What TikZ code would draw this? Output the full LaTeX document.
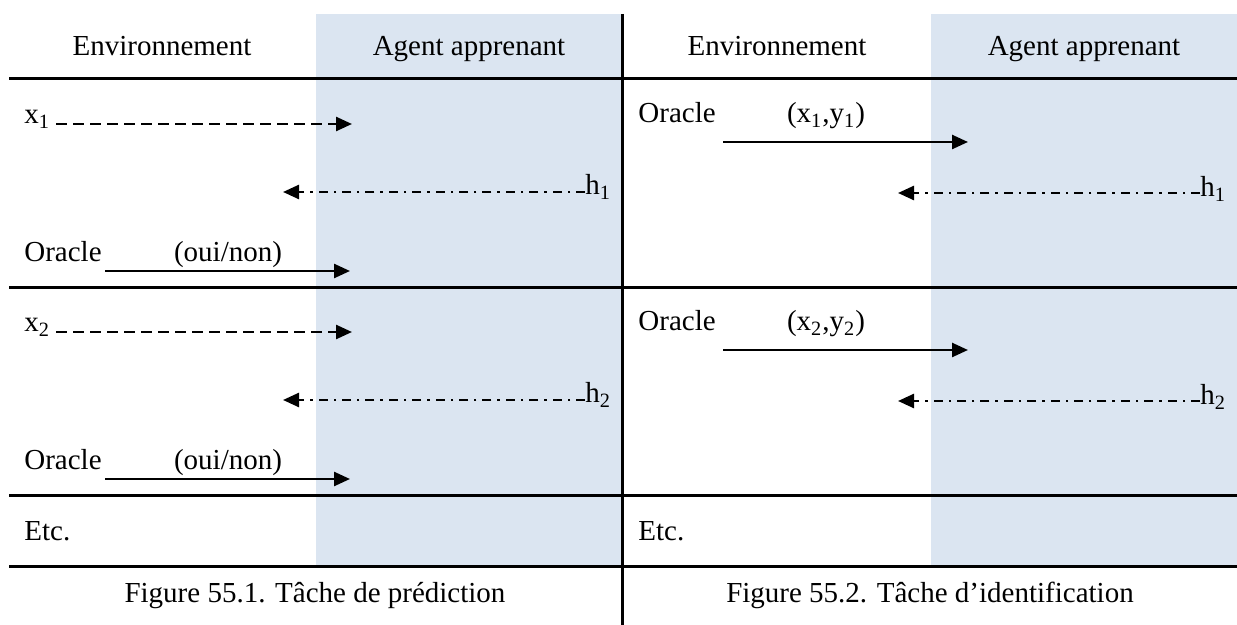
\documentclass[tikz,border=0pt]{standalone}
\usepackage{fontspec}
\setmainfont{Liberation Serif}
\usetikzlibrary{arrows.meta}
\definecolor{agentblue}{RGB}{219,229,241}
\begin{document}
\begin{tikzpicture}[x=0.5pt,y=-0.5pt,
  txt/.style={font=\fontsize{14.5}{17}\selectfont, inner sep=0pt, anchor=base},
  txtw/.style={txt, anchor=base west},
  rule/.style={line width=1.5pt},
  tip/.style={-{Triangle[length=8pt,width=7pt]}},
  dasharrow/.style={line width=1.25pt, dash pattern=on 5.5pt off 3pt, tip},
  dotdash/.style={line width=1.25pt, dash pattern=on 4.5pt off 3pt on 1.2pt off 3pt, tip},
  solidarrow/.style={line width=1.25pt, tip}
]
\useasboundingbox (0,0) rectangle (1237,625);
% shaded agent columns
\fill[agentblue] (316,14) rectangle (621,566);
\fill[agentblue] (931,14) rectangle (1237,566);
% rules
\draw[rule] (622,14) -- (622,625);
\foreach \yy in {79,288,496,566} \draw[rule] (9,\yy) -- (1237,\yy);

% headers
\node[txt] (envL) at (162,56) {Environnement};
\node[txt] (agL)  at (469,56) {Agent apprenant};
\node[txt] (envR) at (777,56) {Environnement};
\node[txt] (agR)  at (1084,56) {Agent apprenant};

% ---------- left panel ----------
% row 1
\node[txtw] (x1) at (24,124) {x\textsubscript{1}};
\coordinate (x1t) at (352,124);
\draw[dasharrow] ([xshift=3pt]x1.east |- x1t) -- (x1t);
\node[txtw] (h1L) at (585,195) {h\textsubscript{1}};
\coordinate (h1Lt) at (283,192);
\draw[dotdash] (h1L.west |- h1Lt) -- (h1Lt);
\node[txtw] (orL1) at (24,262) {Oracle};
\node[txt] (onL1) at (228,262) {(oui/non)};
\coordinate (oL1t) at (350,271);
\draw[solidarrow] ([xshift=1.5pt]orL1.east |- oL1t) -- (oL1t);
% row 2
\node[txtw] (x2) at (24,332) {x\textsubscript{2}};
\coordinate (x2t) at (352,332);
\draw[dasharrow] ([xshift=3pt]x2.east |- x2t) -- (x2t);
\node[txtw] (h2L) at (585,403) {h\textsubscript{2}};
\coordinate (h2Lt) at (283,400);
\draw[dotdash] (h2L.west |- h2Lt) -- (h2Lt);
\node[txtw] (orL2) at (24,470) {Oracle};
\node[txt] (onL2) at (228,470) {(oui/non)};
\coordinate (oL2t) at (350,479);
\draw[solidarrow] ([xshift=1.5pt]orL2.east |- oL2t) -- (oL2t);
% etc
\node[txtw] (etcL) at (24,540) {Etc.};

% ---------- right panel ----------
% row 1
\node[txtw] (orR1) at (638,123) {Oracle};
\node[txt] (xyR1) at (826,123) {(x\textsubscript{1},y\textsubscript{1})};
\coordinate (oR1s) at (723,142);
\coordinate (oR1t) at (968,142);
\draw[solidarrow] (oR1s) -- (oR1t);
\node[txtw] (h1R) at (1200,197) {h\textsubscript{1}};
\coordinate (h1Rt) at (898,193);
\draw[dotdash] (h1R.west |- h1Rt) -- (h1Rt);
% row 2
\node[txtw] (orR2) at (638,331) {Oracle};
\node[txt] (xyR2) at (826,331) {(x\textsubscript{2},y\textsubscript{2})};
\coordinate (oR2s) at (723,350);
\coordinate (oR2t) at (968,350);
\draw[solidarrow] (oR2s) -- (oR2t);
\node[txtw] (h2R) at (1200,405) {h\textsubscript{2}};
\coordinate (h2Rt) at (898,401);
\draw[dotdash] (h2R.west |- h2Rt) -- (h2Rt);
% etc
\node[txtw] (etcR) at (638,540) {Etc.};

% captions
\node[txt] (capL) at (315,602) {Figure 55.1. Tâche de prédiction};
\node[txt] (capR) at (930,602) {Figure 55.2. Tâche d’identification};
\end{tikzpicture}
\end{document}
